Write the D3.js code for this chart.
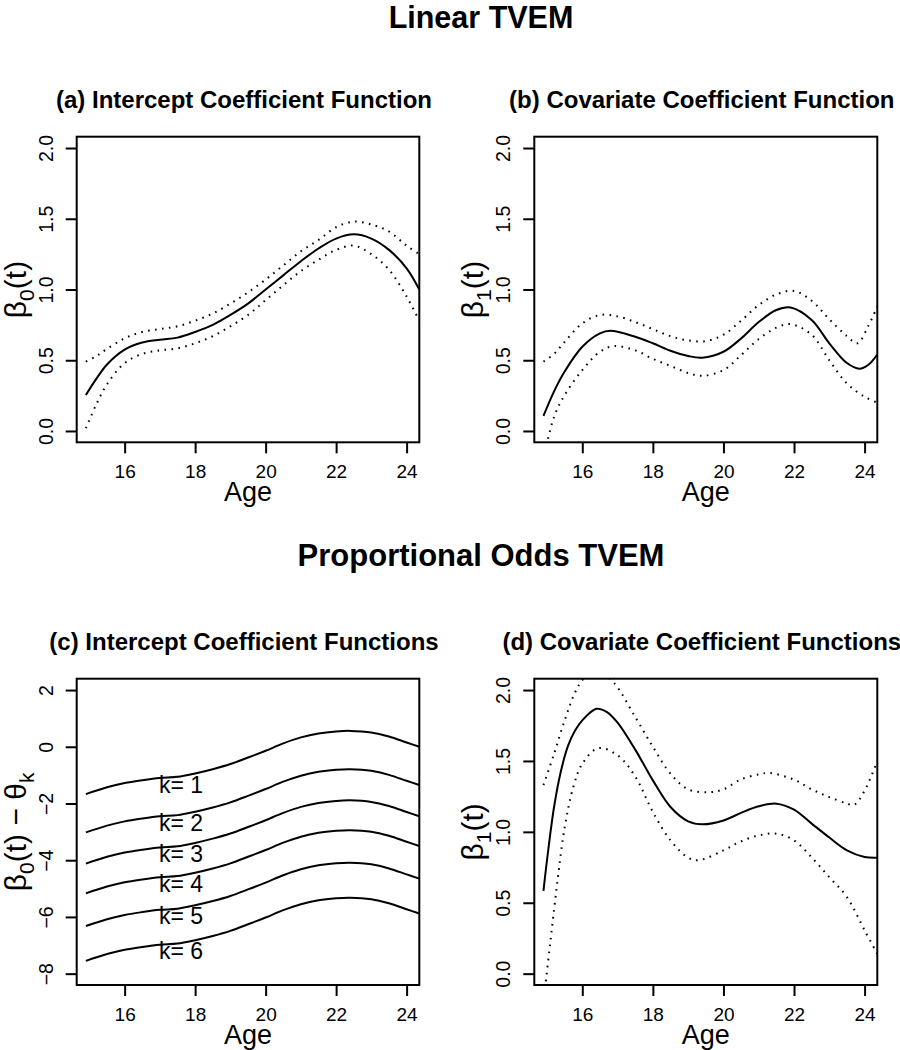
<!DOCTYPE html>
<html><head><meta charset="utf-8">
<script src="https://cdn.jsdelivr.net/npm/d3@7"></script>
<style>
body{margin:0;background:#fff}
svg{display:block}
text{font-family:"Liberation Sans",Arial,Helvetica,sans-serif;fill:#000}
</style>
</head><body><svg id="c" width="900" height="1050"></svg>
<script>
// ---------------- DATA ----------------
const xTicks = [16, 18, 20, 22, 24];
const yTicksBeta = [0, 0.5, 1, 1.5, 2];
const yTicksC = [-8, -6, -4, -2, 0, 2];

// (a) Linear TVEM intercept
const ageA = [14.9,15.2,15.5,16,16.5,17,17.5,18,18.5,19,19.5,20,20.5,21,21.5,22,22.5,23,23.5,24,24.36];
const aEst   = [0.254,0.37,0.47,0.575,0.625,0.645,0.66,0.70,0.75,0.82,0.90,1.0,1.10,1.20,1.29,1.36,1.39,1.36,1.28,1.15,1.0];
const aUpper = [0.49,0.53,0.58,0.655,0.70,0.72,0.74,0.78,0.83,0.90,0.98,1.07,1.17,1.27,1.35,1.44,1.48,1.46,1.41,1.31,1.25];
const aLower = [0.02,0.19,0.33,0.48,0.545,0.57,0.584,0.62,0.67,0.74,0.82,0.925,1.03,1.13,1.21,1.28,1.31,1.25,1.14,0.95,0.78];

// (b) Linear TVEM covariate
const ageBEst = [14.9,15.2,15.5,16,16.5,16.8,17.5,18,18.5,19,19.4,20,20.5,21,21.5,21.9,22.5,23,23.5,23.85,24.1,24.36];
const bEst    = [0.106,0.28,0.42,0.595,0.69,0.708,0.666,0.62,0.567,0.53,0.518,0.56,0.654,0.77,0.855,0.873,0.785,0.62,0.48,0.44,0.466,0.54];
const ageBUp  = [14.9,15.2,15.5,16,16.5,17,17.5,18,18.5,19,19.5,20,20.5,21,21.5,22,22.5,23,23.5,23.8,24.1,24.36];
const bUpper  = [0.49,0.545,0.63,0.76,0.82,0.81,0.77,0.72,0.67,0.64,0.635,0.68,0.78,0.89,0.965,0.99,0.92,0.79,0.67,0.62,0.74,0.88];
const ageBLo  = [14.9,15.2,15.5,16,16.5,16.9,17.5,18,18.5,19,19.4,20,20.5,21,21.5,21.9,22.5,23,23.5,24,24.36];
const bLower  = [-0.2,0.1,0.254,0.43,0.56,0.60,0.57,0.51,0.46,0.41,0.39,0.43,0.536,0.65,0.73,0.755,0.68,0.50,0.336,0.242,0.20];

// (c) Proportional odds intercepts beta0(t) - theta_k
const ageC = [14.9,15.5,16,16.5,17,17.5,18,18.5,19,19.5,20,20.5,21,21.5,22,22.4,23,23.5,24,24.36];
const cK1 = [-1.67,-1.43,-1.28,-1.18,-1.10,-1.06,-0.94,-0.79,-0.61,-0.38,-0.14,0.12,0.33,0.47,0.54,0.56,0.505,0.36,0.15,0.0];
const cK2 = [-3.02,-2.78,-2.63,-2.53,-2.45,-2.41,-2.29,-2.14,-1.96,-1.73,-1.49,-1.23,-1.02,-0.88,-0.81,-0.79,-0.845,-0.99,-1.20,-1.35];
const cK3 = [-4.12,-3.88,-3.73,-3.63,-3.55,-3.51,-3.39,-3.24,-3.06,-2.83,-2.59,-2.33,-2.12,-1.98,-1.91,-1.89,-1.945,-2.09,-2.30,-2.45];
const cK4 = [-5.17,-4.93,-4.78,-4.68,-4.60,-4.56,-4.44,-4.29,-4.11,-3.88,-3.64,-3.38,-3.17,-3.03,-2.96,-2.94,-2.995,-3.14,-3.35,-3.50];
const cK5 = [-6.32,-6.08,-5.93,-5.83,-5.75,-5.71,-5.59,-5.44,-5.26,-5.03,-4.79,-4.53,-4.32,-4.18,-4.11,-4.09,-4.145,-4.29,-4.50,-4.65];
const cK6 = [-7.55,-7.31,-7.16,-7.06,-6.98,-6.94,-6.82,-6.67,-6.49,-6.26,-6.02,-5.76,-5.55,-5.41,-5.34,-5.32,-5.375,-5.52,-5.73,-5.88];
const kLabels = ["k= 1","k= 2","k= 3","k= 4","k= 5","k= 6"];
const kLabelAge = 17.6;
const kLabelY = [-1.36,-2.69,-3.77,-4.83,-5.98,-7.21];

// (d) Proportional odds covariate
const ageDEst = [14.9,15.0,15.2,15.4,15.6,15.8,16,16.4,16.7,17,17.5,18,18.5,19,19.4,20,20.5,21,21.5,22,22.5,23,23.5,24,24.36];
const dEst    = [0.583,0.80,1.175,1.434,1.61,1.716,1.786,1.868,1.845,1.77,1.58,1.363,1.175,1.074,1.053,1.08,1.134,1.18,1.199,1.157,1.058,0.96,0.87,0.823,0.818];
const ageDUp  = [14.9,15.2,15.5,15.8,16.0,16.4,16.9,17.5,18,18.5,19,19.6,20,20.5,21,21.3,22,22.5,23,23.5,23.7,24,24.36];
const dUpper  = [1.33,1.55,1.786,1.986,2.07,2.15,2.05,1.81,1.60,1.41,1.30,1.28,1.30,1.37,1.405,1.415,1.368,1.30,1.245,1.2,1.19,1.29,1.50];
const ageDLo  = [14.9,15.1,15.3,15.5,15.75,16,16.45,17,17.5,18,18.5,19,19.3,20,20.5,21,21.5,22,22.5,23,23.5,24,24.36];
const dLower  = [-0.2,0.235,0.66,1.03,1.32,1.48,1.59,1.54,1.39,1.14,0.94,0.818,0.80,0.87,0.933,0.975,0.987,0.94,0.82,0.68,0.54,0.306,0.14];

const mainTitles = ["Linear TVEM", "Proportional Odds TVEM"];
const panelTitles = ["(a) Intercept Coefficient Function","(b) Covariate Coefficient Function",
                     "(c) Intercept Coefficient Functions","(d) Covariate Coefficient Functions"];
const xLabel = "Age";

// ---------------- DRAW ----------------
const svg = d3.select("#c");
const zip = (xs, ys) => xs.map((x, i) => [x, ys[i]]);
const FONT = '"Liberation Sans",Arial,Helvetica,sans-serif';

svg.append("text").attr("x", 481).attr("y", 28).attr("text-anchor","middle")
  .style("font-weight","bold").style("font-size","30.5px").text(mainTitles[0]);
svg.append("text").attr("x", 481).attr("y", 566).attr("text-anchor","middle")
  .style("font-weight","bold").style("font-size","31px").text(mainTitles[1]);

let clipId = 0;
function panel(o) {
  const x = d3.scaleLinear().domain([14.64, 24.36]).range([o.left, o.left + o.w]);
  const y = d3.scaleLinear().domain(o.yDomain).range([o.top + o.h, o.top]);
  const g = svg.append("g");
  const id = "clip" + (clipId++);
  g.append("clipPath").attr("id", id).append("rect")
    .attr("x", o.left).attr("y", o.top).attr("width", o.w).attr("height", o.h);

  const line = d3.line().x(d => x(d[0])).y(d => y(d[1])).curve(d3.curveCatmullRom.alpha(0.5));
  const pg = g.append("g").attr("clip-path", `url(#${id})`);
  o.series.forEach(s => {
    pg.append("path").attr("d", line(s.data)).attr("fill","none").attr("stroke","#000")
      .attr("stroke-width", 2)
      .attr("stroke-dasharray", s.dotted ? "1.6 5.4" : null);
  });

  // box
  g.append("rect").attr("x", o.left).attr("y", o.top).attr("width", o.w).attr("height", o.h)
    .attr("fill","none").attr("stroke","#000").attr("stroke-width", 2);

  // x axis
  const xa = g.append("g").attr("transform", `translate(0,${o.top + o.h})`)
    .call(d3.axisBottom(x).tickValues(xTicks).tickSize(11).tickFormat(d3.format("d")));
  xa.select(".domain").remove();
  xa.selectAll(".tick line").attr("stroke","#000").attr("stroke-width",2);
  xa.selectAll(".tick text").attr("y", 35.5).attr("dy", 0).style("font-size","19px")
    .style("font-family",FONT).attr("fill","#000");

  // y axis
  const ya = g.append("g").attr("transform", `translate(${o.left},0)`)
    .call(d3.axisLeft(y).tickValues(o.yTicks).tickSize(11).tickFormat(o.yFmt));
  ya.select(".domain").remove();
  ya.selectAll(".tick line").attr("stroke","#000").attr("stroke-width",2);
  ya.selectAll(".tick text").attr("x", 0).attr("y", 0).attr("dy", 0)
    .attr("text-anchor","middle").attr("transform","translate(-24,0) rotate(-90)")
    .style("font-size","19.5px").style("font-family",FONT).attr("fill","#000");

  // panel title
  g.append("text").attr("x", o.left + o.w / 2 - 4).attr("y", o.top - 29)
    .attr("text-anchor","middle").style("font-weight","bold").style("font-size","24px").text(o.title);

  // x label
  g.append("text").attr("x", o.left + o.w / 2).attr("y", o.top + o.h + 58.5)
    .attr("text-anchor","middle").style("font-size","27px").text(xLabel);

  // y label
  const yl = g.append("text").attr("text-anchor","middle")
    .attr("transform", `translate(${o.left - 51},${o.top + o.h / 2}) rotate(-90)`)
    .style("font-size","30px");
  let wasSub = false;
  o.ylab.forEach(p => {
    const t = yl.append("tspan").text(p[0]);
    if (p[1]) { t.attr("dy", 8).style("font-size","21px"); wasSub = true; }
    else if (wasSub) { t.attr("dy", -8); wasSub = false; }
  });

  if (o.labels) {
    o.labels.forEach(l => {
      g.append("text").attr("x", x(l.x)).attr("y", y(l.y)).attr("dy","0.35em")
        .attr("text-anchor","middle").style("font-size","23px").text(l.t);
    });
  }
}

const fmt1 = d3.format(".1f");
const fmtI = d3.format("d");
const L = 76.7, R = 534.3, W = 342.6, T1 = 136.7, H1 = 305.6, T2 = 678.7, H2 = 306.3;

panel({left:L, top:T1, w:W, h:H1, yDomain:[-0.08,2.08], yTicks:yTicksBeta, yFmt:fmt1,
  title:panelTitles[0], ylab:[["β",0],["0",1],["(t)",0]],
  series:[{data:zip(ageA,aEst)},{data:zip(ageA,aUpper),dotted:true},{data:zip(ageA,aLower),dotted:true}]});

panel({left:R, top:T1, w:W+0.4, h:H1, yDomain:[-0.08,2.08], yTicks:yTicksBeta, yFmt:fmt1,
  title:panelTitles[1], ylab:[["β",0],["1",1],["(t)",0]],
  series:[{data:zip(ageBEst,bEst)},{data:zip(ageBUp,bUpper),dotted:true},{data:zip(ageBLo,bLower),dotted:true}]});

panel({left:L, top:T2, w:W, h:H2, yDomain:[-8.4,2.4], yTicks:yTicksC, yFmt:fmtI,
  title:panelTitles[2], ylab:[["β",0],["0",1],["(t) − θ",0],["k",1]],
  series:[cK1,cK2,cK3,cK4,cK5,cK6].map(v => ({data:zip(ageC,v)})),
  labels:kLabels.map((t,i) => ({t:t, x:kLabelAge, y:kLabelY[i]}))});

panel({left:R, top:T2, w:W+0.4, h:H2, yDomain:[-0.08,2.08], yTicks:yTicksBeta, yFmt:fmt1,
  title:panelTitles[3], ylab:[["β",0],["1",1],["(t)",0]],
  series:[{data:zip(ageDEst,dEst)},{data:zip(ageDUp,dUpper),dotted:true},{data:zip(ageDLo,dLower),dotted:true}]});
</script>
</body></html>
